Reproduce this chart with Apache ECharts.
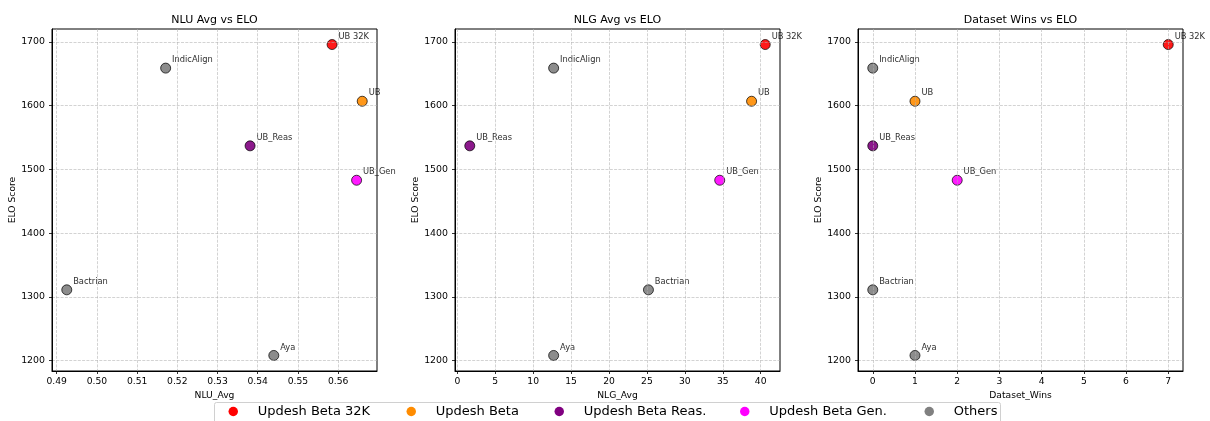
<!DOCTYPE html>
<html>
<head>
<meta charset="utf-8">
<title>ELO vs benchmark scores</title>
<script src="https://cdn.jsdelivr.net/npm/echarts@6/dist/echarts.min.js"></script>
<style>
  html, body { margin: 0; padding: 0; background: #fff; }
  #chart { width: 1210px; height: 421px; }
</style>
</head>
<body>
<div id="chart"></div>
<script>
// Models and their scores
const models      = ['UB 32K', 'UB', 'UB_Reas', 'UB_Gen', 'IndicAlign', 'Bactrian', 'Aya'];
const modelGroup  = ['Updesh Beta 32K', 'Updesh Beta', 'Updesh Beta Reas.', 'Updesh Beta Gen.', 'Others', 'Others', 'Others'];
const eloScore    = [1696, 1607, 1537, 1483, 1659, 1311, 1208];
const nluAvg      = [0.5585, 0.5660, 0.5381, 0.5646, 0.5171, 0.4925, 0.5440];
const nlgAvg      = [40.6, 38.8, 1.64, 34.6, 12.7, 25.2, 12.7];
const datasetWins = [7, 1, 0, 2, 0, 0, 1];

// Legend groups and colours
const groupNames  = ['Updesh Beta 32K', 'Updesh Beta', 'Updesh Beta Reas.', 'Updesh Beta Gen.', 'Others'];
const groupColors = ['#ff0000', '#ff8c00', '#800080', '#ff00ff', '#808080'];

// Tick labels
const eloTicks  = [1200, 1300, 1400, 1500, 1600, 1700];
const nluTicks  = [0.49, 0.50, 0.51, 0.52, 0.53, 0.54, 0.55, 0.56];
const nlgTicks  = [0, 5, 10, 15, 20, 25, 30, 35, 40];
const winsTicks = [0, 1, 2, 3, 4, 5, 6, 7];

const panels = [
  { title: 'NLU Avg vs ELO',      xName: 'NLU_Avg',      xs: nluAvg,      ticks: nluTicks,  fmt: v => v.toFixed(2) },
  { title: 'NLG Avg vs ELO',      xName: 'NLG_Avg',      xs: nlgAvg,      ticks: nlgTicks,  fmt: v => String(v) },
  { title: 'Dataset Wins vs ELO', xName: 'Dataset_Wins', xs: datasetWins, ticks: winsTicks, fmt: v => String(v) }
];

const FONT = 'DejaVu Sans, Liberation Sans, sans-serif';
const PLOT_W = 325, PLOT_H = 342, PLOT_TOP = 29;
const PLOT_LEFT = [52, 455, 858];

// 5% padding around the data range on each side
function padded(arr) {
  const lo = Math.min(...arr), hi = Math.max(...arr);
  const m = (hi - lo) * 0.05;
  return [lo - m, hi + m];
}
const [yMin, yMax] = padded(eloScore);

const grid = [], xAxis = [], yAxis = [], title = [], series = [];

const gridLine = { show: true, lineStyle: { color: '#b0b0b0', opacity: 0.7, width: 0.8, type: [3, 1.3] } };
const tickStyle = { show: true, inside: false, length: 3, lineStyle: { color: '#000', width: 0.8 } };

panels.forEach((p, i) => {
  grid.push({ left: PLOT_LEFT[i], top: PLOT_TOP, width: PLOT_W, height: PLOT_H,
              show: true, borderColor: '#000', borderWidth: 1, backgroundColor: 'transparent' });
  title.push({ text: p.title, left: PLOT_LEFT[i] + PLOT_W / 2, top: 15, textAlign: 'center', padding: 0,
               textStyle: { fontFamily: FONT, fontSize: 11, fontWeight: 'normal', color: '#000' } });
  const [xMin, xMax] = padded(p.xs);
  xAxis.push({
    type: 'value', gridIndex: i, min: xMin, max: xMax, z: 3,
    name: p.xName, nameLocation: 'middle', nameGap: 18,
    nameTextStyle: { fontFamily: FONT, fontSize: 9.2, color: '#000' },
    axisLine: { show: true, onZero: false, lineStyle: { color: '#000', width: 1 } },
    axisTick: Object.assign({ customValues: p.ticks }, tickStyle),
    axisLabel: { customValues: p.ticks, formatter: p.fmt, margin: 6,
                 fontFamily: FONT, fontSize: 9.2, color: '#000' },
    splitLine: gridLine
  });
  yAxis.push({
    type: 'value', gridIndex: i, min: yMin, max: yMax, z: 3,
    name: 'ELO Score', nameLocation: 'middle', nameGap: 32, nameRotate: 90,
    nameTextStyle: { fontFamily: FONT, fontSize: 9.2, color: '#000' },
    axisLine: { show: true, onZero: false, lineStyle: { color: '#000', width: 1 } },
    axisTick: Object.assign({ customValues: eloTicks }, tickStyle),
    axisLabel: { customValues: eloTicks, formatter: v => String(Math.round(v)), margin: 7,
                 fontFamily: FONT, fontSize: 9.4, color: '#000' },
    splitLine: gridLine
  });

  // one series per model so each point carries its own colour and annotation
  models.forEach((m, k) => {
    const g = groupNames.indexOf(modelGroup[k]);
    series.push({
      type: 'scatter', name: modelGroup[k], xAxisIndex: i, yAxisIndex: i, z: 2,
      symbol: 'circle', symbolSize: 10,
      itemStyle: { color: groupColors[g], opacity: 0.9, borderColor: '#000', borderWidth: 0.8 },
      label: { show: true, formatter: m, position: 'right', distance: 1, offset: [0, -8],
               fontFamily: FONT, fontSize: 8.3, color: '#111' },
      emphasis: { disabled: true },
      data: [[p.xs[k], eloScore[k]]]
    });
  });
});

// Legend entries, each placed along the bottom strip
const legendLeft = [228.5, 406.5, 554.5, 740, 924.5];
const legend = groupNames.map((g, j) => ({
  data: [{ name: g, icon: 'circle', itemStyle: { color: groupColors[j], opacity: 1, borderWidth: 0 } }],
  left: legendLeft[j], top: 405, padding: 0, itemWidth: 39, itemHeight: 9.5,
  selectedMode: false,
  textStyle: { fontFamily: FONT, fontSize: 13, color: '#000' }
}));

const chart = echarts.init(document.getElementById('chart'), null, { renderer: 'canvas' });
chart.setOption({
  backgroundColor: '#fff',
  animation: false,
  title, grid, xAxis, yAxis, legend, series,
  graphic: [{
    type: 'rect', z: -1, silent: true,
    shape: { x: 214.5, y: 402.5, width: 786, height: 30, r: 2 },
    style: { fill: '#fff', stroke: '#d0d0d0', lineWidth: 1 }
  }]
});
</script>
</body>
</html>
